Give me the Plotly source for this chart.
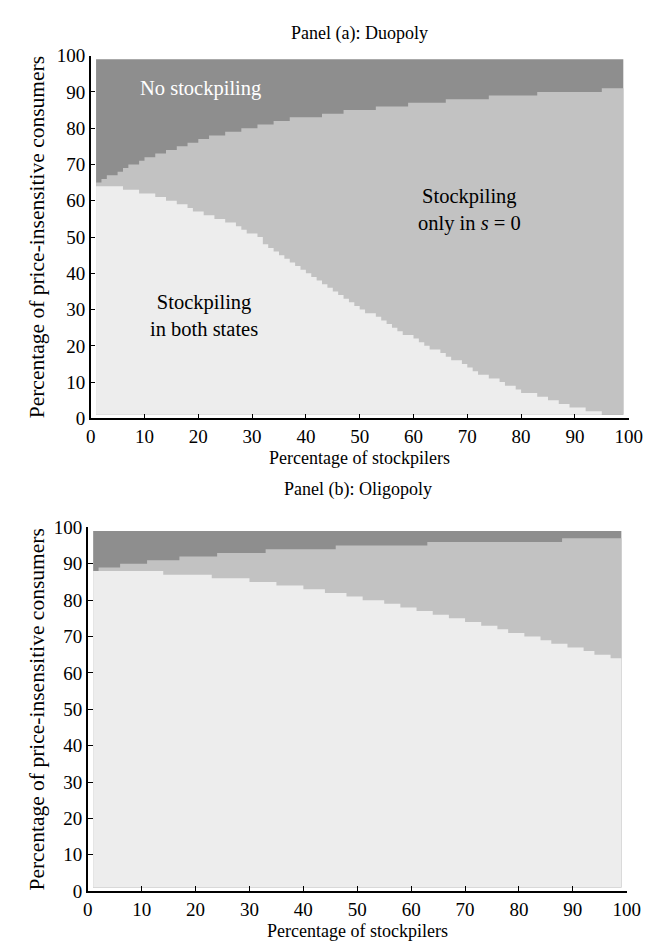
import plotly.graph_objects as go

# ---- Panel (a): Duopoly -- step boundaries ----
# upper boundary (bottom of "No stockpiling" region): step starts (x) and level (y)
a_top_x = [1, 2, 3, 5, 6, 7, 9, 10, 12, 14, 16, 18, 20, 22, 25, 28, 31, 34, 37, 43, 47, 53, 59, 66, 74, 83, 95]
a_top_y = [65, 66, 67, 68, 69, 70, 71, 72, 73, 74, 75, 76, 77, 78, 79, 80, 81, 82, 83, 84, 85, 86, 87, 88, 89, 90, 91]
# lower boundary (top of "Stockpiling in both states" region)
a_low_x = [1, 6, 9, 12, 14, 16, 18, 19, 21, 23, 25, 27, 28, 29, 31, 32, 33, 34, 35, 36, 37, 38, 39, 40,
           41, 42, 43, 44, 45, 46, 47, 48, 49, 50, 51, 53, 54, 55, 56, 57, 58, 60, 61, 62, 63, 65, 66,
           67, 69, 70, 71, 72, 74, 76, 77, 79, 80, 83, 85, 87, 89, 92, 95]
a_low_y = [64, 63, 62, 61, 60, 59, 58, 57, 56, 55, 54, 53, 52, 51, 50, 48, 47, 46, 45, 44, 43, 42, 41, 40,
           39, 38, 37, 36, 35, 34, 33, 32, 31, 30, 29, 28, 27, 26, 25, 24, 23, 22, 21, 20, 19, 18, 17,
           16, 15, 14, 13, 12, 11, 10, 9, 8, 7, 6, 5, 4, 3, 2, 1]

# ---- Panel (b): Oligopoly ----
b_top_x = [1, 2, 6, 11, 17, 24, 33, 46, 63, 88]
b_top_y = [88, 89, 90, 91, 92, 93, 94, 95, 96, 97]
b_low_x = [1, 14, 23, 30, 35, 40, 44, 48, 51, 55, 58, 61, 64, 67, 70, 73, 76, 78, 81, 84, 86, 89, 92, 94, 97]
b_low_y = [88, 87, 86, 85, 84, 83, 82, 81, 80, 79, 78, 77, 76, 75, 74, 73, 72, 71, 70, 69, 68, 67, 66, 65, 64]

GRID_LO, GRID_HI = 1, 99
x_ticks = list(range(0, 101, 10))
y_ticks = list(range(0, 101, 10))

C_DARK = "#8e8e8e"
C_MID = "#c2c2c2"
C_LIGHT = "#ededed"
FONT = "Liberation Serif, 'Times New Roman', Times, serif"


def step_polygon(xs, ys):
    px, py = [GRID_LO], [GRID_LO]
    for i, (x, y) in enumerate(zip(xs, ys)):
        x_end = xs[i + 1] if i + 1 < len(xs) else GRID_HI
        px += [x, x_end]
        py += [y, y]
    px += [GRID_HI, GRID_LO]
    py += [GRID_LO, GRID_LO]
    return px, py


fig = go.Figure()


def add_panel(xref, yref, top_x, top_y, low_x, low_y):
    fig.add_trace(go.Scatter(x=[GRID_LO, GRID_HI, GRID_HI, GRID_LO], y=[GRID_LO, GRID_LO, GRID_HI, GRID_HI],
                             fill="toself", fillcolor=C_DARK, mode="lines", line=dict(width=0),
                             xaxis=xref, yaxis=yref, hoverinfo="skip", showlegend=False))
    px, py = step_polygon(top_x, top_y)
    fig.add_trace(go.Scatter(x=px, y=py, fill="toself", fillcolor=C_MID, mode="lines", line=dict(width=0),
                             xaxis=xref, yaxis=yref, hoverinfo="skip", showlegend=False))
    px, py = step_polygon(low_x, low_y)
    fig.add_trace(go.Scatter(x=px, y=py, fill="toself", fillcolor=C_LIGHT, mode="lines", line=dict(width=0),
                             xaxis=xref, yaxis=yref, hoverinfo="skip", showlegend=False))


add_panel("x", "y", a_top_x, a_top_y, a_low_x, a_low_y)
add_panel("x2", "y2", b_top_x, b_top_y, b_low_x, b_low_y)

W, H = 658, 945
ax_common = dict(range=[0, 100], tickvals=x_ticks, showgrid=False, zeroline=False, showline=True,
                 linecolor="black", linewidth=1.5, ticks="inside", ticklen=5, tickwidth=1.2, tickcolor="black",
                 tickfont=dict(family=FONT, size=19, color="black"), fixedrange=True)

fig.update_layout(
    width=W, height=H, margin=dict(l=0, r=0, t=0, b=0),
    paper_bgcolor="white", plot_bgcolor="white",
    font=dict(family=FONT, color="black"),
    xaxis=dict(domain=[80 / W, 634 / W], anchor="y", **ax_common),
    yaxis=dict(domain=[1 - 409.5 / H, 1 - 38.5 / H], anchor="x", **ax_common),
    xaxis2=dict(domain=[77 / W, 632 / W], anchor="y2", **ax_common),
    yaxis2=dict(domain=[1 - 893 / H, 1 - 521 / H], anchor="x2", **ax_common),
)

annos = [
    dict(text="Panel (a): Duopoly", x=357 / W, y=1 - 16 / H, size=18),
    dict(text="Percentage of stockpilers", x=357 / W, y=1 - 450 / H, size=18),
    dict(text="Panel (b): Oligopoly", x=355 / W, y=1 - 482 / H, size=18),
    dict(text="Percentage of stockpilers", x=355 / W, y=1 - 934 / H, size=18),
]
for a in annos:
    fig.add_annotation(text=a["text"], x=a["x"], y=a["y"], xref="paper", yref="paper", showarrow=False,
                       font=dict(family=FONT, size=a["size"], color="black"), xanchor="center", yanchor="middle")

for yc in (1 - 224 / H, 1 - 707 / H):
    fig.add_annotation(text="Percentage of price-insensitive consumers", x=25 / W, y=yc, xref="paper", yref="paper",
                       showarrow=False, textangle=-90, font=dict(family=FONT, size=21.5, color="black"),
                       xanchor="center", yanchor="middle")

fig.add_annotation(text="No stockpiling", x=20.5, y=91, xref="x", yref="y", showarrow=False,
                   font=dict(family=FONT, size=20.5, color="white"))
fig.add_annotation(text="Stockpiling<br>only in <i>s</i> = 0", x=70.5, y=57.5, xref="x", yref="y", showarrow=False,
                   font=dict(family=FONT, size=20.5, color="black"))
fig.add_annotation(text="Stockpiling<br>in both states", x=21, y=28.5, xref="x", yref="y", showarrow=False,
                   font=dict(family=FONT, size=20.5, color="black"))

fig.write_html("out.html")
